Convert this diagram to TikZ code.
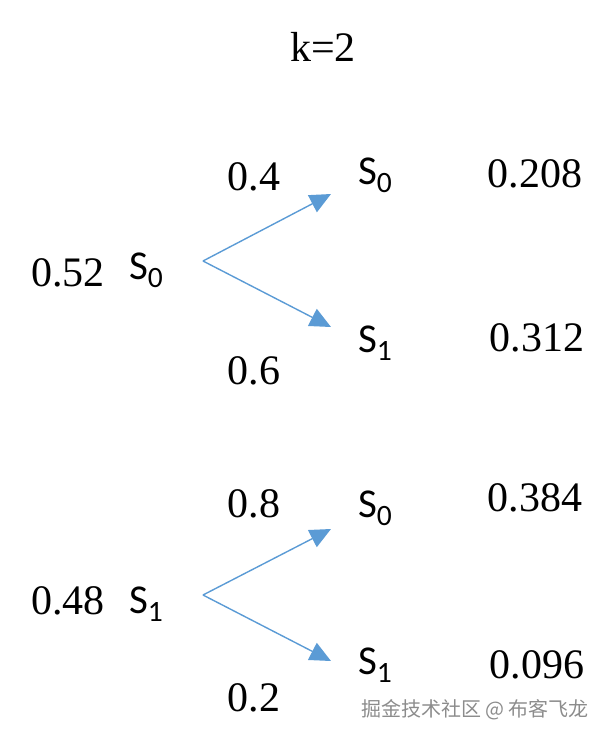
\documentclass[tikz,border=0pt]{standalone}
\usepackage{fontspec}
\setmainfont{Liberation Serif}
\newfontfamily\calfont{Carlito}
\newfontfamily\cjkfont{Noto Sans CJK SC}
\usetikzlibrary{arrows.meta}
\definecolor{arrowblue}{RGB}{91,155,213}
\newcommand\stlab[1]{{\calfont S\raisebox{-0.2em}{\scalebox{0.72}{#1}}}}
\begin{document}
\begin{tikzpicture}[x=1pt,y=-1pt,
  num/.style={inner sep=0pt,font=\fontsize{42}{48}\selectfont},
  st/.style={inner sep=0pt,font=\fontsize{41}{46}\selectfont},
  trans/.style={draw=arrowblue,line width=1.4pt,-{Triangle[length=21pt,width=19pt]}}]
\useasboundingbox (0,0) rectangle (613,742);
\node[num] (title) at (323,47) {k=2};
% upper branch
\node[num] (pa) at (68,273) {0.52};
\node[st] (sa) at (146,270) {\stlab{0}};
\coordinate (oa) at (203,261);
\coordinate (ta1) at (331,194);
\coordinate (ta2) at (331,327);
\draw[trans] (oa) -- (ta1);
\draw[trans] (oa) -- (ta2);
\node[num] (wa1) at (254,177) {0.4};
\node[num] (wa2) at (254,371) {0.6};
\node[st] (sa1) at (375,175) {\stlab{0}};
\node[st] (sa2) at (375,343) {\stlab{1}};
\node[num] (ra1) at (535,174) {0.208};
\node[num] (ra2) at (537,338) {0.312};
% lower branch
\node[num] (pb) at (68,601) {0.48};
\node[st] (sb) at (146,604) {\stlab{1}};
\coordinate (ob) at (203,595);
\coordinate (tb1) at (331,529);
\coordinate (tb2) at (331,661);
\draw[trans] (ob) -- (tb1);
\draw[trans] (ob) -- (tb2);
\node[num] (wb1) at (254,504) {0.8};
\node[num] (wb2) at (254,698) {0.2};
\node[st] (sb1) at (375,508) {\stlab{0}};
\node[st] (sb2) at (375,665) {\stlab{1}};
\node[num] (rb1) at (535,498) {0.384};
\node[num] (rb2) at (537,665) {0.096};
\node[inner sep=0pt,text=black!45,font=\cjkfont\fontsize{20}{24}\selectfont] (wm) at (475,710) {掘金技术社区 @ 布客飞龙};
\end{tikzpicture}
\end{document}
